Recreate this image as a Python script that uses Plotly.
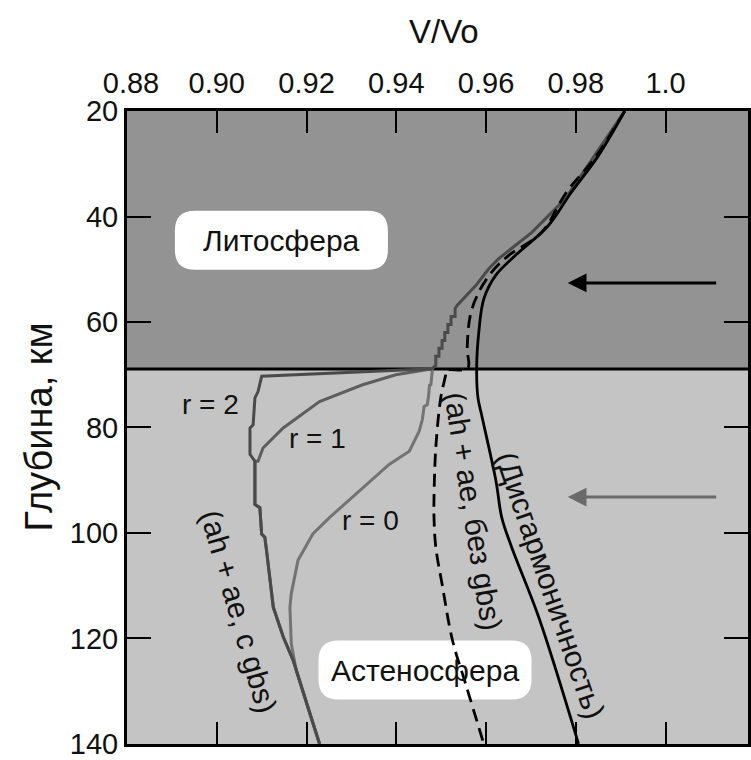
import plotly.graph_objects as go

# ---------------- data ----------------
x_ticks = [0.88, 0.90, 0.92, 0.94, 0.96, 0.98, 1.00]
x_tick_labels = ["\u00a00.88", "0.90", "0.92", "0.94", "0.96", "0.98", "1.0"]
y_ticks = [20, 40, 60, 80, 100, 120, 140]

lab_depth = 68.9  # lithosphere / asthenosphere boundary, km

# anharmonicity (solid black)
anh_v = [0.9909, 0.9850, 0.9790, 0.9739, 0.9665, 0.9621, 0.9595, 0.9584, 0.9579,
         0.9582, 0.9590, 0.9622, 0.9635, 0.9657, 0.9717, 0.9806]
anh_d = [20.0, 28.5, 35.4, 41.7, 47.4, 51.2, 55.6, 61.8, 68.8,
         74.4, 77.6, 90.1, 97.1, 102.7, 115.9, 140.0]

# ah + ae without gbs (dashed black)
nogbs_v = [0.9909, 0.9845, 0.9779, 0.9724, 0.9650, 0.9613, 0.9584, 0.9565, 0.9558, 0.9559,
           0.9511, 0.9510, 0.9499, 0.9488, 0.9484, 0.9484, 0.9488, 0.9502, 0.9525, 0.9554, 0.9595]
nogbs_d = [20.0, 28.6, 35.4, 43.0, 47.4, 50.5, 54.3, 58.7, 65.0, 68.8,
           69.2, 70.0, 74.4, 83.9, 93.3, 97.1, 102.7, 109.7, 120.3, 128.5, 140.0]

# ah + ae with gbs, common part in lithosphere (stepped grey)
lith_v = [0.9909, 0.9776, 0.9702, 0.9628, 0.9606, 0.9577, 0.9536, 0.9531, 0.9531,
          0.9522, 0.9522, 0.9515, 0.9515, 0.9508, 0.9508, 0.9502, 0.9502, 0.9495,
          0.9495, 0.9488, 0.9488, 0.9480]
lith_d = [20.0, 36.7, 43.0, 48.0, 49.9, 53.1, 56.8, 57.45, 58.96,
          58.96, 60.47, 60.47, 61.98, 61.98, 63.49, 63.49, 65.0, 65.0,
          66.51, 66.51, 68.2, 68.85]

# r = 0
r0_v = [0.9480, 0.9480, 0.9477, 0.9474, 0.9472, 0.9469, 0.9462, 0.9458, 0.9451, 0.9429,
        0.9384, 0.9325, 0.9251, 0.9214, 0.9181, 0.9166, 0.9163, 0.9166, 0.9177, 0.9200, 0.9229]
r0_d = [68.85, 69.4, 71.9, 72.0, 74.0, 75.7, 76.0, 78.5, 80.7, 84.5,
        87.0, 91.4, 97.1, 100.2, 105.2, 111.5, 114.1, 121.0, 126.0, 132.3, 140.0]

# r = 1
r1_v = [0.9480, 0.9399, 0.9325, 0.9229, 0.9148, 0.9103, 0.9092, 0.9085, 0.9085, 0.9096,
        0.9100, 0.9107, 0.9111, 0.9126, 0.9148, 0.9170, 0.9229]
r1_d = [68.85, 70.0, 71.9, 75.1, 80.1, 83.9, 86.4, 86.4, 94.6, 95.2,
        100.2, 100.8, 103.4, 114.1, 119.7, 124.1, 140.0]

# r = 2
r2_v = [0.9480, 0.9100, 0.9092, 0.9085, 0.9081, 0.9074, 0.9074, 0.9085, 0.9085, 0.9096,
        0.9100, 0.9107, 0.9111, 0.9126, 0.9148, 0.9170, 0.9229]
r2_d = [68.85, 70.3, 73.2, 74.4, 79.5, 80.1, 85.1, 86.4, 94.6, 95.2,
        100.2, 100.8, 103.4, 114.1, 119.7, 124.1, 140.0]

# ---------------- figure ----------------
FONT = "Liberation Sans, Arial, sans-serif"
fig = go.Figure()

# background bands
fig.add_shape(type="rect", xref="paper", yref="y", x0=0, x1=1, y0=20, y1=lab_depth,
              fillcolor="#939393", line_width=0, layer="below")
fig.add_shape(type="rect", xref="paper", yref="y", x0=0, x1=1, y0=lab_depth, y1=140,
              fillcolor="#c4c4c4", line_width=0, layer="below")
fig.add_shape(type="line", xref="paper", yref="y", x0=0, x1=1, y0=lab_depth, y1=lab_depth,
              line=dict(color="black", width=3), layer="below")


def rounded_box(w, h, r):
    x0, x1, y0, y1 = -w / 2, w / 2, -h / 2, h / 2
    return (f"M {x0 + r},{y0} L {x1 - r},{y0} Q {x1},{y0} {x1},{y0 + r} "
            f"L {x1},{y1 - r} Q {x1},{y1} {x1 - r},{y1} L {x0 + r},{y1} "
            f"Q {x0},{y1} {x0},{y1 - r} L {x0},{y0 + r} Q {x0},{y0} {x0 + r},{y0} Z")


for (bx, by) in [(0.9144, 44.5), (0.9464, 126.0)]:
    fig.add_shape(type="path", xref="x", yref="y", xsizemode="pixel", ysizemode="pixel",
                  xanchor=bx, yanchor=by, path=rounded_box(213, 59, 20),
                  fillcolor="white", line_width=0, layer="below")

# curves
fig.add_trace(go.Scatter(x=r0_v, y=r0_d, mode="lines", line=dict(color="#737373", width=3)))
fig.add_trace(go.Scatter(x=r1_v, y=r1_d, mode="lines", line=dict(color="#5e5e5e", width=3)))
fig.add_trace(go.Scatter(x=r2_v, y=r2_d, mode="lines", line=dict(color="#4a4a4a", width=3)))
fig.add_trace(go.Scatter(x=lith_v, y=lith_d, mode="lines", line=dict(color="#4a4a4a", width=3)))
fig.add_trace(go.Scatter(x=nogbs_v, y=nogbs_d, mode="lines", line_shape="spline",
                         line=dict(color="black", width=2.8, dash="13px,7px")))
fig.add_trace(go.Scatter(x=anh_v, y=anh_d, mode="lines", line_shape="spline",
                         line=dict(color="black", width=2.8)))

# text annotations
anns = [
    dict(x=0.9144, y=44.5, text="Литосфера", textangle=0, size=30),
    dict(x=0.9464, y=126.0, text="Астеносфера", textangle=0, size=30),
    dict(x=0.8985, y=75.7, text="r = 2", textangle=0, size=28),
    dict(x=0.9225, y=82.0, text="r = 1", textangle=0, size=28),
    dict(x=0.9342, y=97.7, text="r = 0", textangle=0, size=28),
    dict(x=0.9744, y=109.9, text="(Дисгармоничность)", textangle=71, size=30),
    dict(x=0.9572, y=95.9, text="(ah + ae, без gbs)", textangle=81, size=30),
    dict(x=0.9050, y=114.8, text="(ah + ae, с gbs)", textangle=74, size=30),
]
for a in anns:
    fig.add_annotation(x=a["x"], y=a["y"], xref="x", yref="y", text=a["text"],
                       textangle=a["textangle"], showarrow=False,
                       font=dict(family=FONT, size=a["size"], color="#111111"))

# arrows
for (yy, col) in [(52.6, "black"), (93.2, "#6a6a6a")]:
    fig.add_annotation(x=0.9782, y=yy, ax=1.0116, ay=yy, xref="x", yref="y",
                       axref="x", ayref="y", text="", showarrow=True,
                       arrowhead=2, arrowsize=1.25, arrowwidth=3, arrowcolor=col)

# axis titles
fig.add_annotation(x=0.51, y=1.0, xref="paper", yref="paper", yshift=100, text="V/Vo",
                   showarrow=False, font=dict(family=FONT, size=33, color="#111111"))
fig.add_annotation(x=0.0, y=0.5, xref="paper", yref="paper", xshift=-66, text="Глубина, км",
                   textangle=-90, showarrow=False, xanchor="right",
                   font=dict(family=FONT, size=38, color="#111111"))

fig.update_layout(
    width=751, height=760,
    margin=dict(l=127, r=0, t=111, b=12),
    paper_bgcolor="white", plot_bgcolor="#c4c4c4",
    showlegend=False,
    xaxis=dict(range=[0.88, 1.01836], side="top", tickvals=x_ticks, ticktext=x_tick_labels,
               ticks="inside", ticklen=22, tickwidth=2, tickcolor="black",
               showline=True, linewidth=3, linecolor="black", mirror="ticks",
               showgrid=False, zeroline=False, ticklabelstandoff=3,
               ticklabeloverflow="allow",
               tickfont=dict(family=FONT, size=29, color="#111111")),
    yaxis=dict(range=[140.02, 19.99], tickvals=y_ticks,
               ticks="inside", ticklen=24, tickwidth=2, tickcolor="black",
               showline=True, linewidth=3, linecolor="black", mirror="ticks",
               showgrid=False, zeroline=False, ticklabeloverflow="allow",
               tickfont=dict(family=FONT, size=29, color="#111111")),
)

fig.write_html("out.html")
